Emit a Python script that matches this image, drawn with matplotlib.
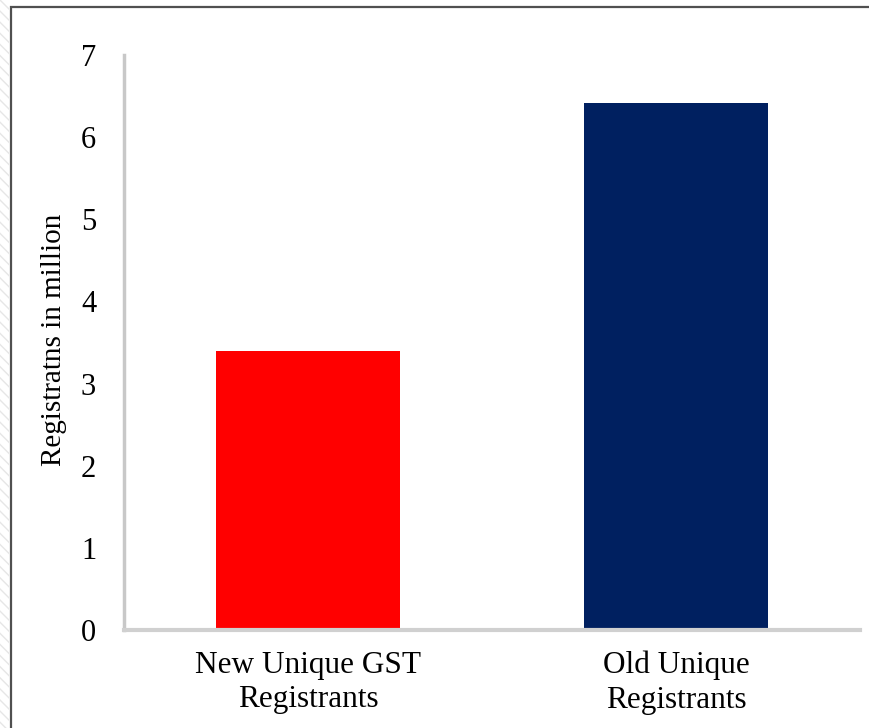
import matplotlib.pyplot as plt
from matplotlib.patches import Rectangle

categories = ["New Unique GST\nRegistrants", "Old Unique\nRegistrants"]
values = [3.4, 6.41]
colors = ["#ff0000", "#002060"]

plt.rcParams['font.family'] = ['Liberation Serif', 'DejaVu Serif']

fig = plt.figure(figsize=(8.69, 7.28), dpi=100)
ax = fig.add_axes([124/869, 1 - 630/728, 736/869, 575/728])

x = range(len(categories))
ax.bar(x, values, width=0.5, color=colors)

ax.set_xlim(-0.5, 1.5)
ax.set_ylim(0, 7)
ax.set_yticks(range(0, 8))
ax.set_xticks(list(x))
ax.set_xticklabels(categories, fontsize=22.5, linespacing=1.25)
ax.tick_params(axis='y', length=0, pad=20, labelsize=22)
ax.tick_params(axis='x', length=0, pad=15)
ax.set_ylabel("Registratns in million", fontsize=21)
ax.yaxis.set_label_coords(-0.078, 0.505)

for s in ['top', 'right']:
    ax.spines[s].set_visible(False)
ax.spines['left'].set_color('#c8c8c8')
ax.spines['left'].set_linewidth(2.5)
ax.spines['bottom'].set_color('#d0d0d0')
ax.spines['bottom'].set_linewidth(3)

# outer frame of the original screenshot
fig.patches.append(Rectangle((11/869, -0.1), 1.1, 1 - 7/728 + 0.1,
                             transform=fig.transFigure, fill=False,
                             edgecolor='#505050', linewidth=1.6))
fig.patches.append(Rectangle((0, 0), 9/869, 1, transform=fig.transFigure,
                             fill=False, edgecolor='#e6e6e6', linewidth=0,
                             hatch='\\\\\\'))

plt.savefig("out.png", dpi=100)
